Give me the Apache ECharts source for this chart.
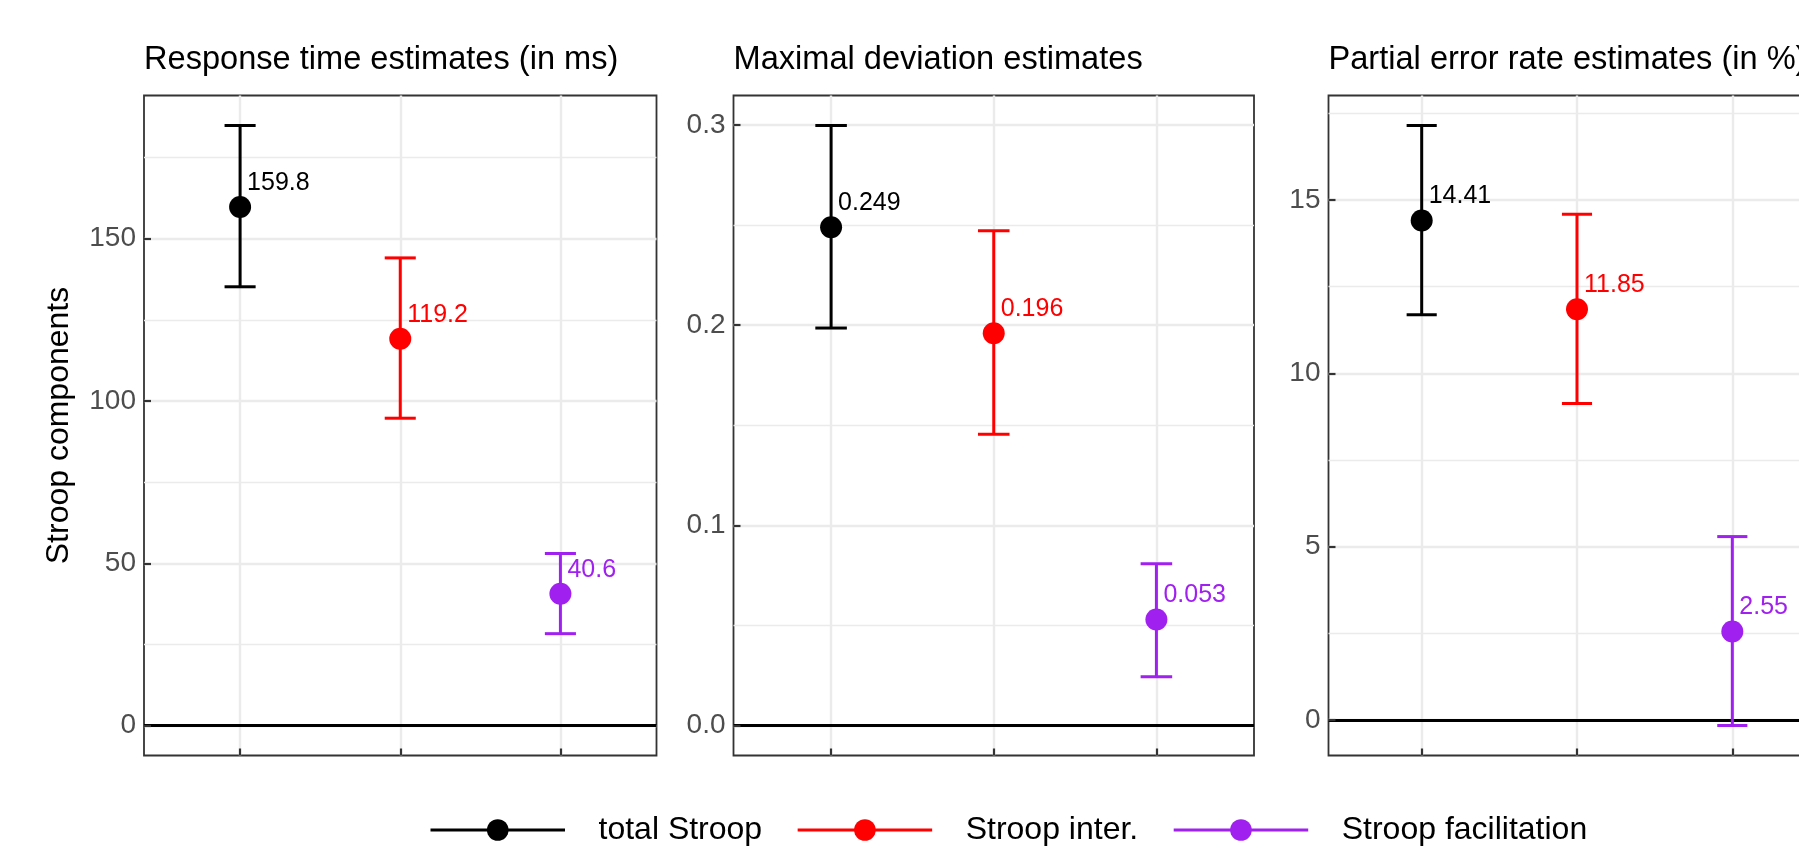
<!DOCTYPE html>
<html>
<head>
<meta charset="utf-8">
<script src="https://cdn.jsdelivr.net/npm/echarts@6/dist/echarts.min.js"></script>
<style>
html,body{margin:0;padding:0;background:#ffffff;}
#chart{width:1799px;height:855px;}
</style>
</head>
<body>
<div id="chart"></div>
<script>
// ---------- data ----------
const categories = ['total Stroop', 'Stroop inter.', 'Stroop facilitation'];
const colors = ['#000000', '#FF0000', '#A020F0'];
const panelTitles = ['Response time estimates (in ms)', 'Maximal deviation estimates', 'Partial error rate estimates (in %)'];
const yAxisTitle = 'Stroop components';

const rtEst  = [159.8, 119.2, 40.6];
const rtLow  = [135.2, 94.7, 28.3];
const rtHigh = [184.9, 144.1, 53.0];

const mdEst  = [0.249, 0.196, 0.053];
const mdLow  = [0.1986, 0.1455, 0.0243];
const mdHigh = [0.2998, 0.2472, 0.0808];

const perEst  = [14.41, 11.85, 2.55];
const perLow  = [11.69, 9.13, -0.16];
const perHigh = [17.15, 14.59, 5.29];

const rtTicks  = [0, 50, 100, 150];
const rtMinor  = [25, 75, 125, 175];
const mdTicks  = [0, 0.1, 0.2, 0.3];
const mdMinor  = [0.05, 0.15, 0.25];
const perTicks = [0, 5, 10, 15];
const perMinor = [2.5, 7.5, 12.5, 17.5];

const tickDigits  = [0, 1, 0];
const labelDigits = [1, 3, 2];

// ---------- layout / style ----------
const FONT = "'Liberation Sans', Arial, Helvetica, sans-serif";
const gridBoxes = [
  {left: 144,    top: 95.5, width: 512.5, height: 660},
  {left: 733.5,  top: 95.5, width: 520.5, height: 660},
  {left: 1328.5, top: 95.5, width: 497,   height: 660}
];
const panels = [
  {est: rtEst,  low: rtLow,  high: rtHigh,  ticks: rtTicks,  minor: rtMinor},
  {est: mdEst,  low: mdLow,  high: mdHigh,  ticks: mdTicks,  minor: mdMinor},
  {est: perEst, low: perLow, high: perHigh, ticks: perTicks, minor: perMinor}
];
const catPos = categories.map((c, j) => j + 1);
const capHalf = 0.097;

function expandRange(p) {
  const lo = Math.min(0, ...p.low);
  const hi = Math.max(0, ...p.high);
  const pad = (hi - lo) * 0.05;
  return [lo - pad, hi + pad];
}

const grid = [], xAxis = [], yAxis = [], series = [], title = [];

panels.forEach((p, i) => {
  const g = gridBoxes[i];
  grid.push(Object.assign({
    show: true, borderColor: '#333333', borderWidth: 1.8,
    backgroundColor: 'transparent', containLabel: false, outerBoundsMode: 'none'
  }, g));

  title.push({
    text: panelTitles[i], left: g.left, top: 44, padding: 0,
    textStyle: {fontSize: 32.6, fontWeight: 'normal', color: '#000', fontFamily: FONT, lineHeight: 33}
  });

  xAxis.push({
    type: 'value', gridIndex: i, min: 0.4, max: 3.6, z: 5,
    axisLine: {show: false, onZero: false},
    splitLine: {show: false},
    axisLabel: {show: false},
    axisTick: {show: true, inside: true, length: 7, lineStyle: {color: '#333333', width: 2.2}, customValues: catPos}
  });

  const r = expandRange(p);
  yAxis.push({
    type: 'value', gridIndex: i, min: r[0], max: r[1], z: 5,
    name: i === 0 ? yAxisTitle : '',
    nameLocation: 'middle', nameGap: 69,
    nameTextStyle: {fontSize: 32, color: '#000', fontFamily: FONT, lineHeight: 32},
    axisLine: {show: false, onZero: false},
    splitLine: {show: false},
    axisTick: {show: true, inside: true, length: 7, lineStyle: {color: '#333333', width: 2.2}, customValues: p.ticks},
    axisLabel: {
      show: true, customValues: p.ticks, margin: 8,
      fontSize: 28, color: '#4D4D4D', fontFamily: FONT,
      formatter: v => Number(v).toFixed(tickDigits[i])
    }
  });

  // background grid lines
  const gridLineData = []
    .concat(p.minor.map(v => ({yAxis: v, lineStyle: {color: '#EBEBEB', width: 1.3, type: 'solid'}})))
    .concat(p.ticks.map(v => ({yAxis: v, lineStyle: {color: '#EBEBEB', width: 2.4, type: 'solid'}})))
    .concat(catPos.map(v => ({xAxis: v, lineStyle: {color: '#EBEBEB', width: 2.4, type: 'solid'}})));
  series.push({
    type: 'line', name: 'grid' + i, xAxisIndex: i, yAxisIndex: i, data: [], z: 1,
    markLine: {silent: true, z: 1, symbol: ['none', 'none'], label: {show: false}, animation: false,
      emphasis: {disabled: true}, data: gridLineData}
  });
  // zero reference line
  series.push({
    type: 'line', name: 'zero' + i, xAxisIndex: i, yAxisIndex: i, data: [], z: 2,
    markLine: {silent: true, z: 2, symbol: ['none', 'none'], label: {show: false}, animation: false,
      emphasis: {disabled: true},
      data: [{yAxis: 0, lineStyle: {color: '#000000', width: 3, type: 'solid'}}]}
  });
  // error bars
  series.push({
    type: 'custom', name: 'err' + i, xAxisIndex: i, yAxisIndex: i, z: 3, silent: true,
    encode: {x: 0, y: [1, 2]},
    data: categories.map((c, j) => [catPos[j], p.low[j], p.high[j]]),
    renderItem: function (params, api) {
      const x = api.value(0), lo = api.value(1), hi = api.value(2);
      const col = colors[params.dataIndex];
      const a = api.coord([x, lo]), b = api.coord([x, hi]);
      const tl = api.coord([x - capHalf, hi]), tr = api.coord([x + capHalf, hi]);
      const bl = api.coord([x - capHalf, lo]), br = api.coord([x + capHalf, lo]);
      const st = {stroke: col, lineWidth: 3};
      return {type: 'group', children: [
        {type: 'line', shape: {x1: a[0], y1: a[1], x2: b[0], y2: b[1]}, style: st},
        {type: 'line', shape: {x1: tl[0], y1: tl[1], x2: tr[0], y2: tr[1]}, style: st},
        {type: 'line', shape: {x1: bl[0], y1: bl[1], x2: br[0], y2: br[1]}, style: st}
      ]};
    }
  });
  // points + labels
  categories.forEach((c, j) => {
    series.push({
      type: 'line', name: c, xAxisIndex: i, yAxisIndex: i, z: 4,
      data: [[catPos[j], p.est[j]]],
      symbol: 'circle', symbolSize: 22, showSymbol: true,
      color: colors[j],
      itemStyle: {color: colors[j]},
      lineStyle: {color: colors[j], width: 3},
      emphasis: {disabled: true},
      label: {
        show: true, position: [18, -13], align: 'left', verticalAlign: 'middle',
        fontSize: 25, color: colors[j], fontFamily: FONT,
        formatter: prm => Number(prm.value[1]).toFixed(labelDigits[i])
      }
    });
  });
});

const chart = echarts.init(document.getElementById('chart'), null, {renderer: 'canvas'});
chart.setOption({
  backgroundColor: '#ffffff',
  animation: false,
  title: title,
  grid: grid,
  xAxis: xAxis,
  yAxis: yAxis,
  legend: {
    data: categories,
    left: 429, top: 814, padding: 0,
    orient: 'horizontal',
    itemWidth: 134.5, itemHeight: 27, itemGap: 34,
    selectedMode: false,
    lineStyle: {width: 3},
    textStyle: {fontSize: 32, color: '#000', fontFamily: FONT, lineHeight: 32, padding: [0, 0, 0, 28.5]}
  },
  tooltip: {show: false},
  series: series
});
</script>
</body>
</html>
